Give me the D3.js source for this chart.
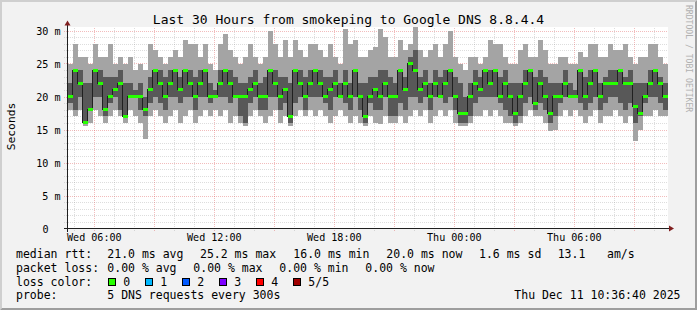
<!DOCTYPE html>
<html><head><meta charset="utf-8">
<script src="https://cdn.jsdelivr.net/npm/d3@7"></script>
<style>
html,body{margin:0;padding:0;background:#f2f2f2;}
svg{display:block;font-family:"DejaVu Sans Mono",monospace;}
</style></head><body>
<svg id="c" width="697" height="310"></svg>
<script>
// ---------------- data ----------------
const title = "Last 30 Hours from smokeping to Google DNS 8.8.4.4";
const yAxisTitle = "Seconds";
const watermark = "RRDTOOL / TOBI OETIKER";
const startTime = "2025-12-10T04:41:00Z";
const stepMinutes = 15;

// five sorted pings per step (ms): ping1 = lowest ... ping5 = highest
const ping1 = [18,17,18,15.5,16,18,17,16,17,18, 17,16,18,17,16,13.5,17,18,17,16, 17,18,16,17,18,16,17,18,17,18, 17,18,16,17,16,15.5,17,18,17,16, 17,18,16,17,15.5,17,18,17,18,17, 18,17,16,17,18,17,16,17,16,15.5, 17,16,15.8,17,16,16,17,16,17,18, 17,18,16,17,18,17,18,16,15.5,15.5, 16,17,17,18,17,18,17,16,16,15.5, 16,17,18,17,17,16,14.8,15,17,18, 17,18,17,16,17,18,16,17,17,18, 17,16,17,13.3,15,17,17,18,17,17];
const ping2 = [19,18,20,16,18,20,20,17,19,20, 18,17,20,20,18,17,19,20,19,18, 20,20,19,20,20,18,20,20,19,20, 20,20,19,20,17,16,19,20,18,18, 20,20,18,19,16,19,20,18,20,20, 20,19,18,20,20,19,18,20,18,16, 19,18,18,20,17,17,19,18,20,20, 19,20,18,20,20,19,20,18,16,16, 17,19,20,20,20,20,19,18,17,16, 17,19,20,18,19,18,16,17,19,20, 20,20,19,18,19,20,18,19,20,20, 19,18,19,16,17,19,20,20,19,18];
const median = [20,24,22,16,18,24,22,18,20,21, 22,17,20,20,20,18,21,24,22,20, 22,24,21,24,22,20,22,24,20,20, 22,24,22,20,20,20,21,22,20,20, 24,22,20,21,17,24,22,20,22,24, 22,20,21,22,20,22,20,24,20,17, 20,21,20,22,20,20,24,21,25,24, 21,22,20,22,20,22,24,20,17.5,17.5, 20,22,21,24,22,24,20,22,20,17.5, 20,22,24,19,22,20,17.5,20,20,22, 20,20,24,20,22,24,20,22,22,22, 24,22,22,18.5,17.5,20,22,24,22,20];
const ping4 = [22,24,24,22,22,24,24,23,23,23, 24,22,22,21,22,20,23,24,24,23, 24,24,23,24,24,23,24,24,22,21, 24,24,24,23,22,22,23,24,22,23, 24,24,23,23,22,24,24,23,24,24, 24,23,23,24,22,24,22,24,22,22, 23,23,24,24,23,22,24,23,26,27, 23,24,22,24,23,24,24,23,22,20, 22,24,23,24,24,24,23,24,22,22, 22,24,24,23,24,23,22,22,22,24, 22,21,24,23,24,24,22,23,24,24, 24,23,24,22,22,22,24,24,23,22];
const ping5 = [25,28,26,26,25,28,26,26,28,25, 26,25,26,24,25,24,28,27,26,25, 26,27,26,28.5,28,28,26,28,25,24, 28,29.5,27,26,25,26,28,26,25,26, 30,28,26,28.5,26,28.5,27,26,28,28, 27,26,28,26,25,30.3,28,28.5,26,26, 27,27.5,30.2,29,26,26,28.5,27,28,30.5, 27,26,27,28,26,28,30,26,25,24, 26,26,25,26,28.5,28,28,26,25,25, 27,28,26,26,28.5,27,25,25,26,26, 25,25,26.7,26,28,28,26,26,28,27, 27,28,26,25,26,26,28,28,26,25];

const yTicks = [0,5,10,15,20,25,30];
const yTickLabels = ["0","5 m","10 m","15 m","20 m","25 m","30 m"];
const xTicks = ["2025-12-10T06:00:00Z","2025-12-10T12:00:00Z","2025-12-10T18:00:00Z","2025-12-11T00:00:00Z","2025-12-11T06:00:00Z"];

const rttLabel = "median rtt:";
const rttStats = ["21.0 ms avg","25.2 ms max","16.0 ms min","20.0 ms now","1.6 ms sd","13.1","am/s"];
const lossLabel = "packet loss:";
const lossStats = ["0.00 % avg","0.00 % max","0.00 % min","0.00 % now"];
const colorLabel = "loss color:";
const lossNames = ["0","1","2","3","4","5/5"];
const lossColors = ["#26ff00","#00b8ff","#0059ff","#7e00ff","#ff0000","#a00000"];
const probeLabel = "probe:";
const probeText = "5 DNS requests every 300s";
const dateText = "Thu Dec 11 10:36:40 2025";

// ---------------- layout ----------------
const W = 697, H = 310;
const L = 67.5, R = 667.5, B = 228.5, T = 30.5;
const svg = d3.select("#c");

svg.append("rect").attr("width", W).attr("height", H).attr("fill", "#f2f2f2");
svg.append("polygon").attr("points", "0,0 697,0 695,2 2,2 2,308 0,310").attr("fill", "#cfcfcf");
svg.append("polygon").attr("points", "697,0 697,310 0,310 2,308 695,308 695,2").attr("fill", "#9e9e9e");

// canvas
svg.append("rect").attr("x", 67).attr("y", 27).attr("width", 601).attr("height", 201).attr("fill", "#ffffff");

const t0 = new Date(startTime);
const x = d3.scaleUtc().domain([t0, d3.utcHour.offset(t0, 30)]).range([L, R]);
const y = d3.scaleLinear().domain([0, 30]).range([B, T]);

// grid
const grid = svg.append("g").attr("shape-rendering", "crispEdges").attr("stroke-dasharray", "1,1").attr("stroke-width", 1);
const minorX = x.ticks(d3.utcHour.every(1));
const majorX = x.ticks(d3.utcHour.every(3));
const majorSet = new Set(majorX.map(d => +d));
const minorCol = "rgba(143,143,143,0.3)", majorCol = "rgba(222,79,79,0.38)";
grid.selectAll("line.mx").data(minorX.filter(d => !majorSet.has(+d))).join("line")
  .attr("x1", d => Math.round(x(d)) + 0.5).attr("x2", d => Math.round(x(d)) + 0.5)
  .attr("y1", 28).attr("y2", 231.5).attr("stroke", minorCol);
const minorY = y.ticks(30).filter(v => v % 5 !== 0);
grid.selectAll("line.my").data(minorY).join("line")
  .attr("x1", 64).attr("x2", 668).attr("y1", d => Math.round(y(d)) + 0.5).attr("y2", d => Math.round(y(d)) + 0.5)
  .attr("stroke", minorCol);
grid.selectAll("line.Mx").data(majorX).join("line")
  .attr("x1", d => Math.round(x(d)) + 0.5).attr("x2", d => Math.round(x(d)) + 0.5)
  .attr("y1", 28).attr("y2", 231.5).attr("stroke", majorCol);
grid.selectAll("line.My").data(yTicks.filter(v => v > 0)).join("line")
  .attr("x1", 64).attr("x2", 668).attr("y1", d => Math.round(y(d)) + 0.5).attr("y2", d => Math.round(y(d)) + 0.5)
  .attr("stroke", majorCol);

// data
svg.append("clipPath").attr("id", "clip").append("rect").attr("x", 67).attr("y", 27).attr("width", 601).attr("height", 201);
const plot = svg.append("g").attr("clip-path", "url(#clip)");
const n = median.length;
const times = d3.range(n + 1).map(i => d3.utcMinute.offset(t0, i * stepMinutes));
const idx = d3.range(n + 1);
const ci = i => Math.min(i, n - 1);

const outer = d3.area().curve(d3.curveStepAfter).x(i => x(times[i])).y0(i => y(ping1[ci(i)])).y1(i => y(ping5[ci(i)]));
const inner = d3.area().curve(d3.curveStepAfter).x(i => x(times[i])).y0(i => y(ping2[ci(i)])).y1(i => y(ping4[ci(i)]));
plot.append("path").attr("d", outer(idx)).attr("fill", "#a4a4a4").attr("shape-rendering", "crispEdges");
plot.append("path").attr("d", inner(idx)).attr("fill", "#585858").attr("shape-rendering", "crispEdges");

const medLine = d3.line().curve(d3.curveStepAfter).x(i => x(times[i])).y(i => y(median[ci(i)]));
plot.append("path").attr("d", medLine(idx)).attr("fill", "none").attr("stroke", "#202020").attr("stroke-width", 1).attr("shape-rendering", "crispEdges");

plot.selectAll("rect.med").data(d3.range(n)).join("rect")
  .attr("x", i => x(times[i])).attr("width", i => x(times[i + 1]) - x(times[i]))
  .attr("y", i => y(median[i]) - 1.5).attr("height", 3)
  .attr("fill", lossColors[0]).attr("shape-rendering", "crispEdges");

// axes labels
const xAxis = svg.append("g").attr("transform", `translate(0,${B})`)
  .call(d3.axisBottom(x).tickValues(xTicks.map(s => new Date(s))).tickFormat(d3.utcFormat("%a %H:%M")).tickSize(0));
xAxis.select(".domain").remove();
xAxis.selectAll("text").attr("y", 12.5).attr("dy", null).attr("fill", "#000")
  .style("font-family", "'DejaVu Sans Mono', monospace").style("font-size", "10.1px");

const yAxis = svg.append("g").attr("transform", `translate(${L},0)`)
  .call(d3.axisLeft(y).tickValues(yTicks).tickFormat((d, i) => yTickLabels[i]).tickSize(0));
yAxis.select(".domain").remove();
yAxis.selectAll("text").attr("x", d => d === 0 ? -19 : -7).attr("dy", 3.5).attr("fill", "#000")
  .style("font-family", "'DejaVu Sans Mono', monospace").style("font-size", "10.1px");

// axis lines + arrows
svg.append("line").attr("x1", 64).attr("x2", 670).attr("y1", B).attr("y2", B).attr("stroke", "#1f1f1f").attr("shape-rendering", "crispEdges");
svg.append("line").attr("x1", L).attr("x2", L).attr("y1", 232).attr("y2", 23).attr("stroke", "#1f1f1f").attr("shape-rendering", "crispEdges");
svg.append("polygon").attr("points", `669,${B-3} 669,${B+3} 674,${B}`).attr("fill", "#801f1f");
svg.append("polygon").attr("points", `${L-3},25.5 ${L+3},25.5 ${L},20.5`).attr("fill", "#801f1f");

// titles
svg.append("text").attr("x", 348.5).attr("y", 23.5).attr("text-anchor", "middle").style("font-size", "13px").attr("fill", "#000").text(title);
svg.append("text").attr("transform", "translate(14.5,126.5) rotate(-90)").attr("text-anchor", "middle").style("font-size", "11.3px").attr("fill", "#000").text(yAxisTitle);
svg.append("text").attr("transform", "translate(685.5,5) rotate(90)").style("font-size", "8.1px").attr("fill", "#b0b0b0").text(watermark);

// legend
const lg = svg.append("g").style("font-size", "11.5px").attr("fill", "#000");
const rows = [258.3, 271.9, 285.5, 299.1];
lg.append("text").attr("x", 16).attr("y", rows[0]).text(rttLabel);
const rttX = [107.3, 200, 293.3, 386.3, 479, 557.7, 607];
rttStats.forEach((s, i) => lg.append("text").attr("x", rttX[i]).attr("y", rows[0]).text(s));
lg.append("text").attr("x", 16).attr("y", rows[1]).text(lossLabel);
lossStats.forEach((s, i) => lg.append("text").attr("x", 107.3 + i * 86).attr("y", rows[1]).text(s));
lg.append("text").attr("x", 16).attr("y", rows[2]).text(colorLabel);
lossNames.forEach((s, i) => {
  const sx = 108.5 + i * 37;
  lg.append("rect").attr("x", sx).attr("y", 278.5).attr("width", 7).attr("height", 7)
    .attr("fill", lossColors[i]).attr("stroke", "#000").attr("stroke-width", 1).attr("shape-rendering", "crispEdges");
  lg.append("text").attr("x", sx + 14.8).attr("y", rows[2]).text(s);
});
lg.append("text").attr("x", 16).attr("y", rows[3]).text(probeLabel);
lg.append("text").attr("x", 107.3).attr("y", rows[3]).text(probeText);
lg.append("text").attr("x", 680.5).attr("y", rows[3]).attr("text-anchor", "end").text(dateText);
</script>
</body></html>
